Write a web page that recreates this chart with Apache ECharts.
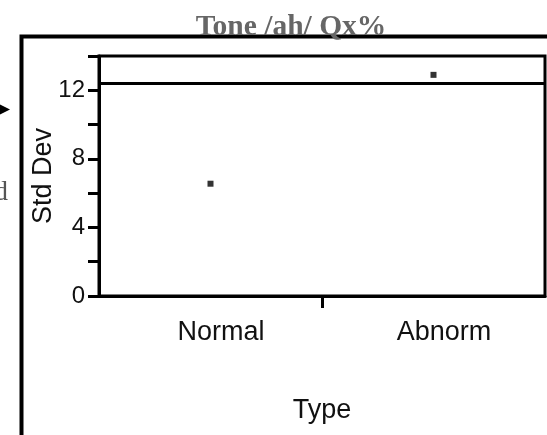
<!DOCTYPE html>
<html>
<head>
<meta charset="utf-8">
<script src="https://cdn.jsdelivr.net/npm/echarts@6/dist/echarts.min.js"></script>
<style>
  html, body { margin: 0; padding: 0; background: #fff; }
  #chart { width: 547px; height: 435px; }
</style>
</head>
<body>
<div id="chart"></div>
<script>
// Groups on the category axis
const categories = ['Normal', 'Abnorm'];
// Standard deviation per group
const stdDevValues = [6.55, 12.9];
// Reference level drawn across the plot
const referenceLevel = [12.4];
// Y axis range and tick step
const yTicks = { min: 0, max: 14, step: 2, labelStep: 4 };

const SANS = '"Liberation Sans", Arial, sans-serif';
const SERIF = '"Liberation Serif", "Times New Roman", serif';

const chart = echarts.init(document.getElementById('chart'), null, { renderer: 'canvas' });

chart.setOption({
  backgroundColor: '#ffffff',
  animation: false,
  grid: {
    left: 99, right: 2, top: 56, bottom: 139,
    show: true, borderColor: '#000', borderWidth: 3, backgroundColor: 'transparent'
  },
  xAxis: [
    {
      type: 'category',
      data: categories,
      boundaryGap: true,
      axisLine: { show: true, lineStyle: { color: '#000', width: 3 } },
      axisTick: { show: false },
      axisLabel: {
        color: '#111', fontFamily: SANS, fontSize: 27, margin: 23,
        padding: [0, 0, 0, 21]
      },
      splitLine: { show: false },
      name: 'Type',
      nameLocation: 'middle',
      nameGap: 101,
      nameMoveOverlap: false,
      nameTextStyle: { color: '#111', fontFamily: SANS, fontSize: 27 }
    },
    {
      // divider tick between the two groups
      type: 'value',
      min: 0, max: 2,
      position: 'bottom',
      axisLine: { show: false },
      axisTick: { show: true, customValues: [1], length: 12, lineStyle: { color: '#000', width: 3 } },
      axisLabel: { show: false },
      splitLine: { show: false }
    }
  ],
  yAxis: {
    type: 'value',
    min: yTicks.min, max: yTicks.max, interval: yTicks.step,
    axisLine: { show: true, lineStyle: { color: '#000', width: 3 } },
    axisTick: { show: true, length: 11, lineStyle: { color: '#000', width: 3 } },
    axisLabel: {
      color: '#111', fontFamily: SANS, fontSize: 24, margin: 14,
      formatter: v => (v % yTicks.labelStep === 0 ? String(v) : '')
    },
    splitLine: { show: false },
    name: 'Std Dev',
    nameLocation: 'middle',
    nameRotate: 90,
    nameGap: 42,
    nameMoveOverlap: false,
    nameTextStyle: { color: '#111', fontFamily: SANS, fontSize: 27 }
  },
  series: [{
    type: 'scatter',
    xAxisIndex: 0,
    data: stdDevValues,
    symbol: 'rect',
    symbolSize: [6, 6],
    itemStyle: { color: '#000' },
    markLine: {
      silent: true,
      symbol: 'none',
      label: { show: false },
      lineStyle: { color: '#000', width: 3, type: 'solid' },
      data: referenceLevel.map(v => ({ yAxis: v }))
    }
  }],
  graphic: [
    {
      type: 'rect', z: 1,
      shape: { x: 21.5, y: 36.5, width: 700, height: 600 },
      style: { fill: 'none', stroke: '#000', lineWidth: 4 }
    },
    {
      type: 'text', z: 10,
      x: 291, y: 42,
      style: {
        text: 'Tone /ah/ Qx%', fill: '#666', font: 'bold 29.5px ' + SERIF,
        align: 'center', verticalAlign: 'bottom'
      }
    },
    {
      type: 'polygon', z: 1,
      shape: { points: [[0, 104.5], [10, 109.5], [0, 114.5]] },
      style: { fill: '#000' }
    },
    {
      type: 'text', z: 1,
      x: 8, y: 193,
      style: {
        text: 'd', fill: '#555', font: '28px ' + SERIF,
        align: 'right', verticalAlign: 'middle'
      }
    }
  ]
});
</script>
</body>
</html>
